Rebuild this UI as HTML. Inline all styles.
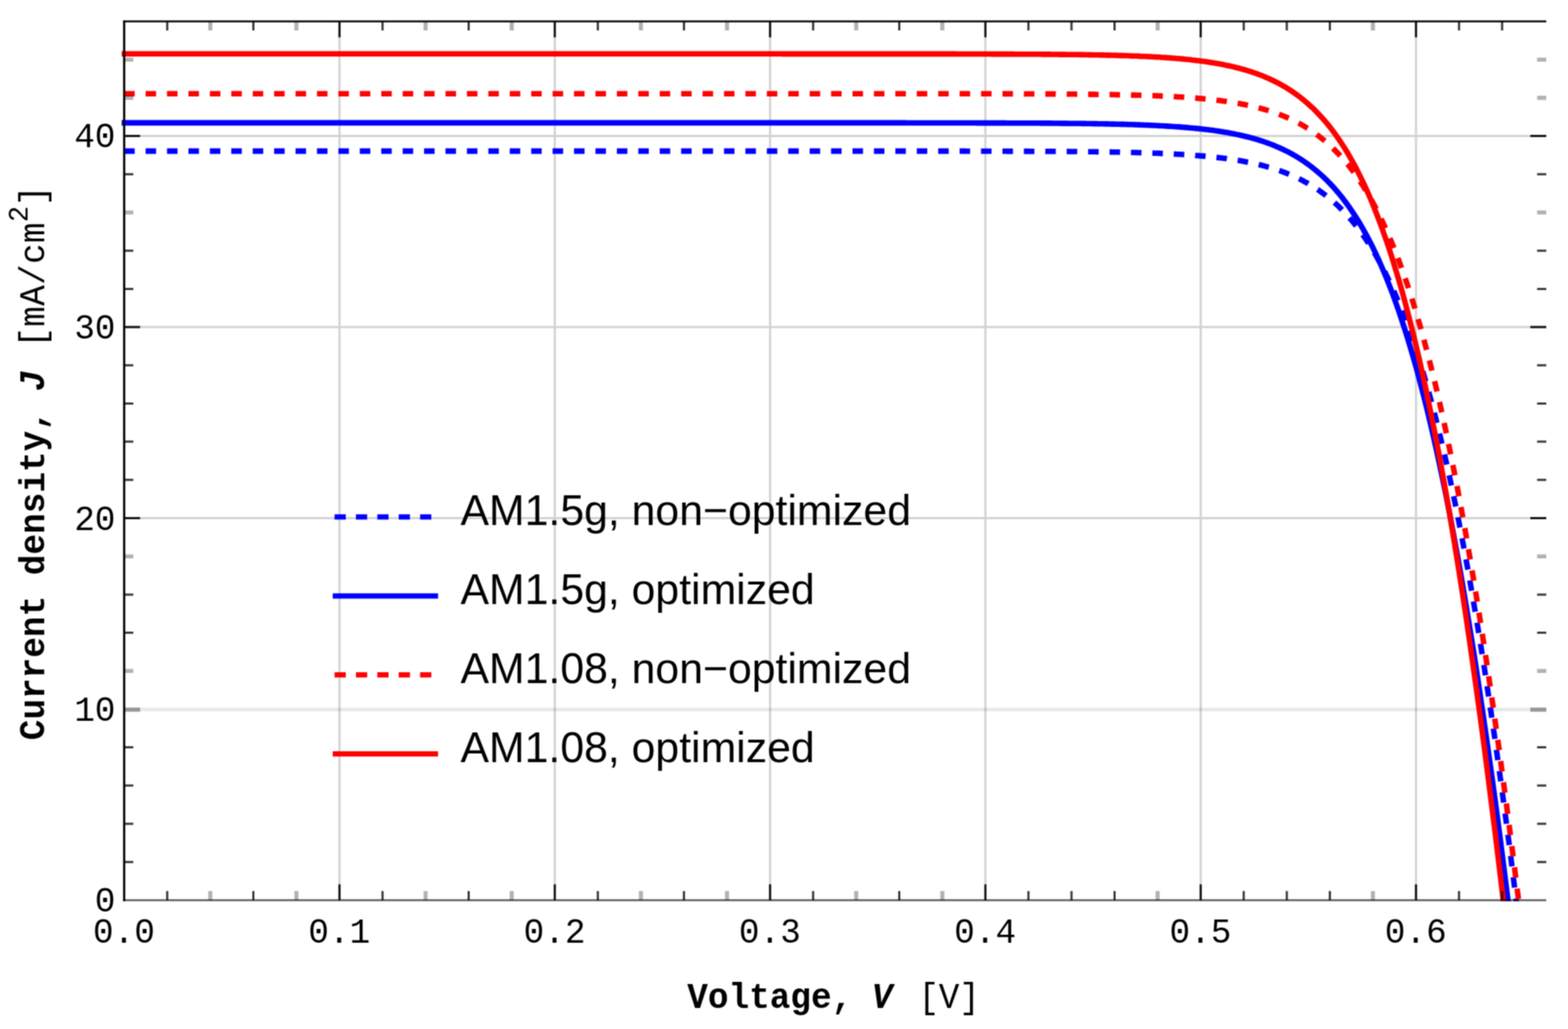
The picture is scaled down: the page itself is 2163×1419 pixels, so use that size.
<!DOCTYPE html>
<html lang="en">
<head>
<meta charset="utf-8">
<title>J-V curves</title>
<style>
html,body{margin:0;padding:0;background:#fff;}
body{width:2163px;height:1419px;overflow:hidden;}
svg{display:block;}
.mono{font-family:"Liberation Mono","DejaVu Sans Mono",monospace;font-size:47.4px;fill:#000;}
.lg{font-family:"Liberation Sans","DejaVu Sans",sans-serif;font-size:59px;fill:#000;}
.b{font-weight:bold;}
.i{font-style:italic;}
.sup{font-size:37px;}
</style>
</head>
<body>
<svg width="2163" height="1419" viewBox="0 0 2163 1419">
<defs><filter id="soft" x="0" y="0" width="2163" height="1419" filterUnits="userSpaceOnUse" color-interpolation-filters="sRGB"><feConvolveMatrix order="3" kernelMatrix="1 2 1 2 4 2 1 2 1" divisor="16" edgeMode="duplicate" preserveAlpha="true"/></filter><clipPath id="plot"><rect x="165.3" y="29.4" width="1967.7" height="1213.4"/></clipPath></defs>
<g filter="url(#soft)">
<rect width="2163" height="1419" fill="#fff"/>
<g id="grid" fill="none">
<path d="M171.3,978.6H2133.0" stroke="#000" stroke-opacity="0.085" stroke-width="5"/>
<path d="M468.3,29.4V1241.4M765.3,29.4V1241.4M1062.3,29.4V1241.4M1359.3,29.4V1241.4M1656.3,29.4V1241.4M1953.3,29.4V1241.4M171.3,714.5H2133.0M171.3,451.1H2133.0M171.3,187.6H2133.0" stroke="#000" stroke-opacity="0.175" stroke-width="3"/>
</g>
<g id="curves" clip-path="url(#plot)" fill="none" stroke-width="7.6" stroke-linejoin="round">
<path d="M171.3,208.4 L466.3,208.4 L469.4,208.4 L472.5,208.4 L475.7,208.4 L478.8,208.4 L481.9,208.4 L485.1,208.4 L488.2,208.4 L491.3,208.4 L494.5,208.4 L497.6,208.4 L500.7,208.4 L503.9,208.4 L507.0,208.4 L510.1,208.4 L513.3,208.4 L516.4,208.4 L519.6,208.4 L522.7,208.4 L525.8,208.4 L529.0,208.4 L532.1,208.4 L535.3,208.4 L538.4,208.4 L541.6,208.4 L544.7,208.4 L547.8,208.4 L551.0,208.4 L554.1,208.4 L557.3,208.4 L560.4,208.4 L563.6,208.4 L566.7,208.4 L569.9,208.4 L573.0,208.4 L576.2,208.4 L579.3,208.4 L582.5,208.4 L585.6,208.4 L588.8,208.4 L591.9,208.4 L595.1,208.4 L598.2,208.4 L601.4,208.4 L604.5,208.4 L607.7,208.4 L610.8,208.4 L614.0,208.4 L617.1,208.4 L620.3,208.4 L623.4,208.4 L626.6,208.4 L629.7,208.4 L632.9,208.4 L636.1,208.4 L639.2,208.4 L642.4,208.4 L645.5,208.4 L648.7,208.4 L651.8,208.4 L655.0,208.4 L658.1,208.4 L661.3,208.4 L664.4,208.4 L667.6,208.4 L670.7,208.4 L673.9,208.4 L677.1,208.4 L680.2,208.4 L683.4,208.4 L686.5,208.4 L689.7,208.4 L692.8,208.4 L696.0,208.4 L699.1,208.4 L702.3,208.4 L705.5,208.4 L708.6,208.4 L711.8,208.4 L714.9,208.4 L718.1,208.4 L721.2,208.4 L724.4,208.4 L727.5,208.4 L730.7,208.4 L733.9,208.4 L737.0,208.4 L740.2,208.4 L743.3,208.4 L746.5,208.4 L749.6,208.4 L752.8,208.4 L756.0,208.4 L759.1,208.4 L762.3,208.4 L765.4,208.4 L768.6,208.4 L771.7,208.4 L774.9,208.4 L778.0,208.4 L781.2,208.4 L784.4,208.4 L787.5,208.4 L790.7,208.4 L793.8,208.4 L797.0,208.4 L800.1,208.4 L803.3,208.4 L806.5,208.4 L809.6,208.4 L812.8,208.4 L815.9,208.4 L819.1,208.4 L822.2,208.4 L825.4,208.4 L828.6,208.4 L831.7,208.4 L834.9,208.4 L838.0,208.4 L841.2,208.4 L844.3,208.4 L847.5,208.4 L850.7,208.4 L853.8,208.4 L857.0,208.4 L860.1,208.4 L863.3,208.4 L866.4,208.4 L869.6,208.4 L872.8,208.4 L875.9,208.4 L879.1,208.4 L882.2,208.4 L885.4,208.4 L888.5,208.4 L891.7,208.4 L894.8,208.4 L898.0,208.4 L901.2,208.4 L904.3,208.4 L907.5,208.4 L910.6,208.4 L913.8,208.4 L916.9,208.4 L920.1,208.4 L923.3,208.4 L926.4,208.4 L929.6,208.4 L932.7,208.4 L935.9,208.4 L939.0,208.4 L942.2,208.4 L945.4,208.4 L948.5,208.4 L951.7,208.4 L954.8,208.4 L958.0,208.4 L961.1,208.4 L964.3,208.4 L967.5,208.4 L970.6,208.4 L973.8,208.4 L976.9,208.4 L980.1,208.4 L983.2,208.4 L986.4,208.4 L989.6,208.4 L992.7,208.4 L995.9,208.4 L999.0,208.4 L1002.2,208.4 L1005.3,208.4 L1008.5,208.4 L1011.7,208.4 L1014.8,208.4 L1018.0,208.4 L1021.1,208.4 L1024.3,208.4 L1027.4,208.4 L1030.6,208.4 L1033.8,208.4 L1036.9,208.4 L1040.1,208.4 L1043.2,208.4 L1046.4,208.4 L1049.5,208.4 L1052.7,208.4 L1055.9,208.4 L1059.0,208.4 L1062.2,208.4 L1065.3,208.4 L1068.5,208.4 L1071.6,208.4 L1074.8,208.4 L1078.0,208.4 L1081.1,208.4 L1084.3,208.4 L1087.4,208.4 L1090.6,208.4 L1093.7,208.4 L1096.9,208.4 L1100.1,208.4 L1103.2,208.4 L1106.4,208.4 L1109.5,208.4 L1112.7,208.4 L1115.8,208.4 L1119.0,208.4 L1122.2,208.4 L1125.3,208.4 L1128.5,208.4 L1131.6,208.4 L1134.8,208.4 L1137.9,208.4 L1141.1,208.4 L1144.3,208.4 L1147.4,208.4 L1150.6,208.4 L1153.7,208.4 L1156.9,208.4 L1160.0,208.4 L1163.2,208.4 L1166.4,208.4 L1169.5,208.4 L1172.7,208.4 L1175.8,208.4 L1179.0,208.4 L1182.1,208.4 L1185.3,208.4 L1188.5,208.4 L1191.6,208.4 L1194.8,208.4 L1197.9,208.4 L1201.1,208.4 L1204.2,208.4 L1207.4,208.4 L1210.6,208.4 L1213.7,208.4 L1216.9,208.4 L1220.0,208.4 L1223.2,208.4 L1226.3,208.4 L1229.5,208.4 L1232.7,208.4 L1235.8,208.4 L1239.0,208.4 L1242.1,208.4 L1245.3,208.4 L1248.4,208.4 L1251.6,208.4 L1254.8,208.4 L1257.9,208.4 L1261.1,208.4 L1264.2,208.4 L1267.4,208.4 L1270.5,208.4 L1273.7,208.4 L1276.9,208.4 L1280.0,208.4 L1283.2,208.4 L1286.3,208.4 L1289.5,208.4 L1292.6,208.4 L1295.8,208.4 L1299.0,208.4 L1302.1,208.4 L1305.3,208.4 L1308.4,208.4 L1311.6,208.4 L1314.7,208.4 L1317.9,208.4 L1321.1,208.4 L1324.2,208.4 L1327.4,208.4 L1330.5,208.4 L1333.7,208.5 L1336.8,208.5 L1340.0,208.5 L1343.2,208.5 L1346.3,208.5 L1349.5,208.5 L1352.6,208.5 L1355.8,208.5 L1358.9,208.5 L1362.1,208.5 L1365.3,208.5 L1368.4,208.5 L1371.6,208.5 L1374.7,208.5 L1377.9,208.5 L1381.0,208.5 L1384.2,208.5 L1387.4,208.5 L1390.5,208.6 L1393.7,208.6 L1396.8,208.6 L1400.0,208.6 L1403.1,208.6 L1406.3,208.6 L1409.5,208.6 L1412.6,208.6 L1415.8,208.6 L1418.9,208.6 L1422.1,208.7 L1425.2,208.7 L1428.4,208.7 L1431.6,208.7 L1434.7,208.7 L1437.9,208.7 L1441.0,208.7 L1444.2,208.8 L1447.4,208.8 L1450.5,208.8 L1453.7,208.8 L1456.8,208.8 L1460.0,208.9 L1463.1,208.9 L1466.3,208.9 L1469.5,208.9 L1472.6,208.9 L1475.8,209.0 L1478.9,209.0 L1482.1,209.0 L1485.3,209.0 L1488.4,209.1 L1491.6,209.1 L1494.7,209.1 L1497.9,209.2 L1501.0,209.2 L1504.2,209.2 L1507.4,209.3 L1510.5,209.3 L1513.7,209.4 L1516.8,209.4 L1520.0,209.4 L1523.2,209.5 L1526.3,209.5 L1529.5,209.6 L1532.6,209.6 L1535.8,209.7 L1539.0,209.8 L1542.1,209.8 L1545.3,209.9 L1548.4,209.9 L1551.6,210.0 L1554.8,210.1 L1557.9,210.2 L1561.1,210.2 L1564.2,210.3 L1567.4,210.4 L1570.6,210.5 L1573.7,210.6 L1576.9,210.7 L1580.0,210.8 L1583.2,210.9 L1586.4,211.0 L1589.5,211.1 L1592.7,211.2 L1595.9,211.3 L1599.0,211.4 L1602.2,211.6 L1605.4,211.7 L1608.5,211.9 L1611.7,212.0 L1614.8,212.2 L1618.0,212.3 L1621.2,212.5 L1624.3,212.7 L1627.5,212.8 L1630.7,213.0 L1633.8,213.2 L1637.0,213.4 L1640.2,213.6 L1643.3,213.9 L1646.5,214.1 L1649.7,214.4 L1652.8,214.6 L1656.0,214.9 L1659.2,215.1 L1662.4,215.4 L1665.5,215.7 L1668.7,216.0 L1671.9,216.4 L1675.1,216.7 L1678.2,217.1 L1681.4,217.4 L1684.6,217.8 L1687.8,218.2 L1690.9,218.6 L1694.1,219.1 L1697.3,219.5 L1700.5,220.0 L1703.7,220.5 L1706.8,221.0 L1710.0,221.5 L1713.2,222.1 L1716.4,222.7 L1719.6,223.3 L1722.8,223.9 L1726.0,224.6 L1729.1,225.3 L1732.3,226.0 L1735.5,226.7 L1738.7,227.5 L1741.9,228.3 L1745.1,229.2 L1748.3,230.1 L1751.5,231.0 L1754.7,232.0 L1757.9,233.0 L1761.1,234.0 L1764.3,235.1 L1767.6,236.2 L1770.8,237.4 L1774.0,238.6 L1777.2,239.9 L1780.4,241.3 L1783.7,242.6 L1786.9,244.1 L1790.1,245.6 L1793.4,247.2 L1796.6,248.8 L1799.8,250.6 L1803.1,252.3 L1806.3,254.2 L1809.6,256.2 L1812.8,258.2 L1816.1,260.3 L1819.4,262.5 L1822.6,264.8 L1825.9,267.2 L1829.2,269.7 L1832.5,272.3 L1835.8,275.0 L1839.1,277.8 L1842.4,280.8 L1845.7,283.8 L1849.0,287.0 L1852.3,290.4 L1855.6,293.9 L1859.0,297.5 L1862.3,301.3 L1865.7,305.2 L1869.0,309.3 L1872.4,313.6 L1875.8,318.0 L1879.1,322.7 L1882.5,327.5 L1885.9,332.6 L1889.4,337.9 L1892.8,343.4 L1896.2,349.1 L1899.7,355.1 L1903.1,361.3 L1906.6,367.8 L1910.1,374.5 L1913.6,381.6 L1917.1,388.9 L1920.6,396.6 L1924.2,404.5 L1927.8,412.9 L1931.3,421.5 L1934.9,430.6 L1938.6,440.0 L1942.2,449.8 L1945.9,460.1 L1949.5,470.7 L1953.2,481.9 L1957.0,493.5 L1960.7,505.5 L1964.5,518.2 L1968.3,531.3 L1972.1,545.0 L1976.0,559.3 L1979.9,574.1 L1983.8,589.6 L1987.7,605.8 L1991.7,622.7 L1995.7,640.2 L1999.8,658.5 L2003.9,677.6 L2008.0,697.5 L2012.2,718.3 L2016.4,739.9 L2020.7,762.4 L2025.0,785.9 L2029.3,810.4 L2033.7,836.0 L2038.2,862.6 L2042.7,890.3 L2047.3,919.2 L2051.9,949.4 L2056.6,980.8 L2061.4,1013.6 L2066.2,1047.7 L2071.1,1083.3 L2076.1,1120.4 L2081.2,1159.1 L2086.3,1199.4 L2091.5,1241.4 L2091.7,1243.3 L2092.1,1245.9 L2092.4,1248.6 L2092.7,1251.2 L2093.0,1253.9" stroke="#0000ff" stroke-dasharray="14.5 15.05"/>
<path d="M167.8,169.4 L459.3,169.4 L462.4,169.4 L465.5,169.4 L468.6,169.4 L471.7,169.4 L474.8,169.4 L478.0,169.4 L481.1,169.4 L484.2,169.4 L487.3,169.4 L490.4,169.4 L493.5,169.4 L496.6,169.4 L499.7,169.4 L502.9,169.4 L506.0,169.4 L509.1,169.4 L512.2,169.4 L515.3,169.4 L518.5,169.4 L521.6,169.4 L524.7,169.4 L527.8,169.4 L530.9,169.4 L534.1,169.4 L537.2,169.4 L540.3,169.4 L543.4,169.4 L546.6,169.4 L549.7,169.4 L552.8,169.4 L555.9,169.4 L559.1,169.4 L562.2,169.4 L565.3,169.4 L568.4,169.4 L571.6,169.4 L574.7,169.4 L577.8,169.4 L580.9,169.4 L584.1,169.4 L587.2,169.4 L590.3,169.4 L593.5,169.4 L596.6,169.4 L599.7,169.4 L602.8,169.4 L606.0,169.4 L609.1,169.4 L612.2,169.4 L615.4,169.4 L618.5,169.4 L621.6,169.4 L624.8,169.4 L627.9,169.4 L631.0,169.4 L634.2,169.4 L637.3,169.4 L640.4,169.4 L643.5,169.4 L646.7,169.4 L649.8,169.4 L652.9,169.4 L656.1,169.4 L659.2,169.4 L662.3,169.4 L665.5,169.4 L668.6,169.4 L671.7,169.4 L674.9,169.4 L678.0,169.4 L681.1,169.4 L684.3,169.4 L687.4,169.4 L690.5,169.4 L693.7,169.4 L696.8,169.4 L699.9,169.4 L703.1,169.4 L706.2,169.4 L709.3,169.4 L712.5,169.4 L715.6,169.4 L718.7,169.4 L721.9,169.4 L725.0,169.4 L728.1,169.4 L731.3,169.4 L734.4,169.4 L737.5,169.4 L740.7,169.4 L743.8,169.4 L746.9,169.4 L750.1,169.4 L753.2,169.4 L756.3,169.4 L759.5,169.4 L762.6,169.4 L765.7,169.4 L768.9,169.4 L772.0,169.4 L775.1,169.4 L778.3,169.4 L781.4,169.4 L784.5,169.4 L787.7,169.4 L790.8,169.4 L793.9,169.4 L797.1,169.4 L800.2,169.4 L803.3,169.4 L806.5,169.4 L809.6,169.4 L812.7,169.4 L815.9,169.4 L819.0,169.4 L822.2,169.4 L825.3,169.4 L828.4,169.4 L831.6,169.4 L834.7,169.4 L837.8,169.4 L841.0,169.4 L844.1,169.4 L847.2,169.4 L850.4,169.4 L853.5,169.4 L856.6,169.4 L859.8,169.4 L862.9,169.4 L866.0,169.4 L869.2,169.4 L872.3,169.4 L875.4,169.4 L878.6,169.4 L881.7,169.4 L884.8,169.4 L888.0,169.4 L891.1,169.4 L894.2,169.4 L897.4,169.4 L900.5,169.4 L903.6,169.4 L906.8,169.4 L909.9,169.4 L913.0,169.4 L916.2,169.4 L919.3,169.4 L922.5,169.4 L925.6,169.4 L928.7,169.4 L931.9,169.4 L935.0,169.4 L938.1,169.4 L941.3,169.4 L944.4,169.4 L947.5,169.4 L950.7,169.4 L953.8,169.4 L956.9,169.4 L960.1,169.4 L963.2,169.4 L966.3,169.4 L969.5,169.4 L972.6,169.4 L975.7,169.4 L978.9,169.4 L982.0,169.4 L985.1,169.4 L988.3,169.4 L991.4,169.4 L994.5,169.4 L997.7,169.4 L1000.8,169.4 L1003.9,169.4 L1007.1,169.4 L1010.2,169.4 L1013.4,169.4 L1016.5,169.4 L1019.6,169.4 L1022.8,169.4 L1025.9,169.4 L1029.0,169.4 L1032.2,169.4 L1035.3,169.4 L1038.4,169.4 L1041.6,169.4 L1044.7,169.4 L1047.8,169.4 L1051.0,169.4 L1054.1,169.4 L1057.2,169.4 L1060.4,169.4 L1063.5,169.4 L1066.6,169.4 L1069.8,169.4 L1072.9,169.4 L1076.0,169.4 L1079.2,169.4 L1082.3,169.4 L1085.4,169.4 L1088.6,169.4 L1091.7,169.4 L1094.8,169.4 L1098.0,169.4 L1101.1,169.4 L1104.3,169.4 L1107.4,169.4 L1110.5,169.4 L1113.7,169.4 L1116.8,169.4 L1119.9,169.4 L1123.1,169.4 L1126.2,169.4 L1129.3,169.4 L1132.5,169.4 L1135.6,169.4 L1138.7,169.4 L1141.9,169.4 L1145.0,169.4 L1148.1,169.4 L1151.3,169.4 L1154.4,169.4 L1157.5,169.4 L1160.7,169.4 L1163.8,169.4 L1166.9,169.4 L1170.1,169.4 L1173.2,169.4 L1176.3,169.4 L1179.5,169.4 L1182.6,169.4 L1185.7,169.4 L1188.9,169.4 L1192.0,169.4 L1195.2,169.4 L1198.3,169.4 L1201.4,169.4 L1204.6,169.4 L1207.7,169.4 L1210.8,169.4 L1214.0,169.4 L1217.1,169.4 L1220.2,169.4 L1223.4,169.4 L1226.5,169.4 L1229.6,169.4 L1232.8,169.4 L1235.9,169.4 L1239.0,169.4 L1242.2,169.4 L1245.3,169.4 L1248.4,169.4 L1251.6,169.5 L1254.7,169.5 L1257.8,169.5 L1261.0,169.5 L1264.1,169.5 L1267.2,169.5 L1270.4,169.5 L1273.5,169.5 L1276.7,169.5 L1279.8,169.5 L1282.9,169.5 L1286.1,169.5 L1289.2,169.5 L1292.3,169.5 L1295.5,169.5 L1298.6,169.5 L1301.7,169.5 L1304.9,169.5 L1308.0,169.5 L1311.1,169.5 L1314.3,169.5 L1317.4,169.5 L1320.5,169.5 L1323.7,169.5 L1326.8,169.5 L1329.9,169.5 L1333.1,169.5 L1336.2,169.5 L1339.3,169.5 L1342.5,169.5 L1345.6,169.5 L1348.7,169.6 L1351.9,169.6 L1355.0,169.6 L1358.2,169.6 L1361.3,169.6 L1364.4,169.6 L1367.6,169.6 L1370.7,169.6 L1373.8,169.6 L1377.0,169.6 L1380.1,169.6 L1383.2,169.6 L1386.4,169.6 L1389.5,169.7 L1392.6,169.7 L1395.8,169.7 L1398.9,169.7 L1402.0,169.7 L1405.2,169.7 L1408.3,169.7 L1411.4,169.7 L1414.6,169.8 L1417.7,169.8 L1420.9,169.8 L1424.0,169.8 L1427.1,169.8 L1430.3,169.8 L1433.4,169.8 L1436.5,169.9 L1439.7,169.9 L1442.8,169.9 L1445.9,169.9 L1449.1,169.9 L1452.2,170.0 L1455.3,170.0 L1458.5,170.0 L1461.6,170.0 L1464.8,170.1 L1467.9,170.1 L1471.0,170.1 L1474.2,170.2 L1477.3,170.2 L1480.4,170.2 L1483.6,170.3 L1486.7,170.3 L1489.8,170.3 L1493.0,170.4 L1496.1,170.4 L1499.3,170.5 L1502.4,170.5 L1505.5,170.5 L1508.7,170.6 L1511.8,170.6 L1514.9,170.7 L1518.1,170.7 L1521.2,170.8 L1524.4,170.9 L1527.5,170.9 L1530.6,171.0 L1533.8,171.1 L1536.9,171.1 L1540.0,171.2 L1543.2,171.3 L1546.3,171.4 L1549.5,171.4 L1552.6,171.5 L1555.7,171.6 L1558.9,171.7 L1562.0,171.8 L1565.2,171.9 L1568.3,172.0 L1571.4,172.1 L1574.6,172.2 L1577.7,172.4 L1580.9,172.5 L1584.0,172.6 L1587.1,172.7 L1590.3,172.9 L1593.4,173.0 L1596.6,173.2 L1599.7,173.4 L1602.9,173.5 L1606.0,173.7 L1609.1,173.9 L1612.3,174.1 L1615.4,174.3 L1618.6,174.5 L1621.7,174.7 L1624.9,174.9 L1628.0,175.1 L1631.2,175.4 L1634.3,175.6 L1637.5,175.9 L1640.6,176.2 L1643.8,176.5 L1646.9,176.8 L1650.1,177.1 L1653.2,177.4 L1656.4,177.7 L1659.5,178.1 L1662.7,178.4 L1665.8,178.8 L1669.0,179.2 L1672.1,179.6 L1675.3,180.1 L1678.5,180.5 L1681.6,181.0 L1684.8,181.5 L1687.9,182.0 L1691.1,182.5 L1694.3,183.1 L1697.4,183.7 L1700.6,184.3 L1703.8,184.9 L1706.9,185.6 L1710.1,186.3 L1713.3,187.0 L1716.5,187.7 L1719.6,188.5 L1722.8,189.3 L1726.0,190.1 L1729.2,191.0 L1732.4,191.9 L1735.5,192.9 L1738.7,193.9 L1741.9,194.9 L1745.1,196.0 L1748.3,197.1 L1751.5,198.3 L1754.7,199.5 L1757.9,200.8 L1761.1,202.2 L1764.3,203.5 L1767.5,205.0 L1770.8,206.5 L1774.0,208.1 L1777.2,209.7 L1780.4,211.4 L1783.7,213.2 L1786.9,215.1 L1790.1,217.0 L1793.4,219.0 L1796.6,221.1 L1799.9,223.3 L1803.1,225.6 L1806.4,228.0 L1809.7,230.5 L1812.9,233.1 L1816.2,235.8 L1819.5,238.6 L1822.8,241.5 L1826.1,244.6 L1829.4,247.7 L1832.7,251.1 L1836.0,254.5 L1839.4,258.1 L1842.7,261.9 L1846.0,265.8 L1849.4,269.9 L1852.8,274.2 L1856.1,278.6 L1859.5,283.2 L1862.9,288.1 L1866.3,293.1 L1869.7,298.3 L1873.2,303.8 L1876.6,309.5 L1880.0,315.4 L1883.5,321.6 L1887.0,328.1 L1890.5,334.8 L1894.0,341.8 L1897.5,349.1 L1901.1,356.8 L1904.6,364.7 L1908.2,373.0 L1911.8,381.6 L1915.4,390.6 L1919.1,400.0 L1922.7,409.8 L1926.4,420.0 L1930.1,430.6 L1933.8,441.7 L1937.6,453.2 L1941.4,465.3 L1945.2,477.8 L1949.0,490.9 L1952.9,504.5 L1956.8,518.7 L1960.7,533.5 L1964.7,549.0 L1968.7,565.1 L1972.7,581.9 L1976.8,599.3 L1980.9,617.6 L1985.0,636.6 L1989.2,656.4 L1993.5,677.0 L1997.8,698.6 L2002.1,721.0 L2006.5,744.4 L2011.0,768.8 L2015.5,794.2 L2020.0,820.7 L2024.6,848.3 L2029.3,877.1 L2034.1,907.1 L2038.9,938.4 L2043.7,971.0 L2048.7,1005.0 L2053.7,1040.4 L2058.9,1077.3 L2064.1,1115.8 L2069.4,1156.0 L2074.7,1197.8 L2080.2,1241.4 L2080.4,1243.3 L2080.8,1245.9 L2081.1,1248.6 L2081.4,1251.2 L2081.8,1253.9" stroke="#0000ff"/>
<path d="M171.3,129.2 L508.6,129.2 L511.7,129.2 L514.7,129.2 L517.8,129.2 L520.8,129.2 L523.9,129.2 L526.9,129.2 L529.9,129.2 L533.0,129.2 L536.0,129.2 L539.1,129.2 L542.1,129.2 L545.2,129.2 L548.2,129.2 L551.3,129.2 L554.3,129.2 L557.4,129.2 L560.4,129.2 L563.5,129.2 L566.5,129.2 L569.6,129.2 L572.6,129.2 L575.7,129.2 L578.7,129.2 L581.8,129.2 L584.8,129.2 L587.9,129.2 L590.9,129.2 L594.0,129.2 L597.0,129.2 L600.1,129.2 L603.1,129.2 L606.2,129.2 L609.2,129.2 L612.3,129.2 L615.3,129.2 L618.4,129.2 L621.4,129.2 L624.5,129.2 L627.5,129.2 L630.6,129.2 L633.6,129.2 L636.7,129.2 L639.7,129.2 L642.8,129.2 L645.8,129.2 L648.9,129.2 L651.9,129.2 L655.0,129.2 L658.0,129.2 L661.1,129.2 L664.2,129.2 L667.2,129.2 L670.3,129.2 L673.3,129.2 L676.4,129.2 L679.4,129.2 L682.5,129.2 L685.5,129.2 L688.6,129.2 L691.6,129.2 L694.7,129.2 L697.7,129.2 L700.8,129.2 L703.9,129.2 L706.9,129.2 L710.0,129.2 L713.0,129.2 L716.1,129.2 L719.1,129.2 L722.2,129.2 L725.2,129.2 L728.3,129.2 L731.3,129.2 L734.4,129.2 L737.4,129.2 L740.5,129.2 L743.6,129.2 L746.6,129.2 L749.7,129.2 L752.7,129.2 L755.8,129.2 L758.8,129.2 L761.9,129.2 L764.9,129.2 L768.0,129.2 L771.0,129.2 L774.1,129.2 L777.2,129.2 L780.2,129.2 L783.3,129.2 L786.3,129.2 L789.4,129.2 L792.4,129.2 L795.5,129.2 L798.5,129.2 L801.6,129.2 L804.6,129.2 L807.7,129.2 L810.7,129.2 L813.8,129.2 L816.9,129.2 L819.9,129.2 L823.0,129.2 L826.0,129.2 L829.1,129.2 L832.1,129.2 L835.2,129.2 L838.2,129.2 L841.3,129.2 L844.4,129.2 L847.4,129.2 L850.5,129.2 L853.5,129.2 L856.6,129.2 L859.6,129.2 L862.7,129.2 L865.7,129.2 L868.8,129.2 L871.8,129.2 L874.9,129.2 L878.0,129.2 L881.0,129.2 L884.1,129.2 L887.1,129.2 L890.2,129.2 L893.2,129.2 L896.3,129.2 L899.3,129.2 L902.4,129.2 L905.4,129.2 L908.5,129.2 L911.6,129.2 L914.6,129.2 L917.7,129.2 L920.7,129.2 L923.8,129.2 L926.8,129.2 L929.9,129.2 L932.9,129.2 L936.0,129.2 L939.0,129.2 L942.1,129.2 L945.2,129.2 L948.2,129.2 L951.3,129.2 L954.3,129.2 L957.4,129.2 L960.4,129.2 L963.5,129.2 L966.5,129.2 L969.6,129.2 L972.6,129.2 L975.7,129.2 L978.8,129.2 L981.8,129.2 L984.9,129.2 L987.9,129.2 L991.0,129.2 L994.0,129.2 L997.1,129.2 L1000.1,129.2 L1003.2,129.2 L1006.2,129.2 L1009.3,129.2 L1012.4,129.2 L1015.4,129.2 L1018.5,129.2 L1021.5,129.2 L1024.6,129.2 L1027.6,129.2 L1030.7,129.2 L1033.7,129.2 L1036.8,129.2 L1039.9,129.2 L1042.9,129.2 L1046.0,129.2 L1049.0,129.2 L1052.1,129.2 L1055.1,129.2 L1058.2,129.2 L1061.2,129.2 L1064.3,129.2 L1067.3,129.2 L1070.4,129.2 L1073.5,129.2 L1076.5,129.2 L1079.6,129.2 L1082.6,129.2 L1085.7,129.2 L1088.7,129.2 L1091.8,129.2 L1094.8,129.2 L1097.9,129.2 L1100.9,129.2 L1104.0,129.2 L1107.1,129.2 L1110.1,129.2 L1113.2,129.2 L1116.2,129.2 L1119.3,129.2 L1122.3,129.2 L1125.4,129.2 L1128.4,129.2 L1131.5,129.2 L1134.5,129.2 L1137.6,129.2 L1140.7,129.2 L1143.7,129.2 L1146.8,129.2 L1149.8,129.2 L1152.9,129.2 L1155.9,129.2 L1159.0,129.2 L1162.0,129.2 L1165.1,129.2 L1168.2,129.2 L1171.2,129.2 L1174.3,129.2 L1177.3,129.2 L1180.4,129.2 L1183.4,129.2 L1186.5,129.2 L1189.5,129.2 L1192.6,129.2 L1195.6,129.2 L1198.7,129.2 L1201.8,129.2 L1204.8,129.2 L1207.9,129.2 L1210.9,129.2 L1214.0,129.2 L1217.0,129.2 L1220.1,129.2 L1223.1,129.2 L1226.2,129.2 L1229.2,129.2 L1232.3,129.2 L1235.4,129.2 L1238.4,129.2 L1241.5,129.2 L1244.5,129.2 L1247.6,129.2 L1250.6,129.2 L1253.7,129.2 L1256.7,129.2 L1259.8,129.2 L1262.9,129.2 L1265.9,129.2 L1269.0,129.2 L1272.0,129.2 L1275.1,129.3 L1278.1,129.3 L1281.2,129.3 L1284.2,129.3 L1287.3,129.3 L1290.3,129.3 L1293.4,129.3 L1296.5,129.3 L1299.5,129.3 L1302.6,129.3 L1305.6,129.3 L1308.7,129.3 L1311.7,129.3 L1314.8,129.3 L1317.8,129.3 L1320.9,129.3 L1323.9,129.3 L1327.0,129.3 L1330.1,129.3 L1333.1,129.3 L1336.2,129.3 L1339.2,129.3 L1342.3,129.3 L1345.3,129.3 L1348.4,129.3 L1351.4,129.3 L1354.5,129.3 L1357.6,129.3 L1360.6,129.3 L1363.7,129.3 L1366.7,129.3 L1369.8,129.3 L1372.8,129.4 L1375.9,129.4 L1378.9,129.4 L1382.0,129.4 L1385.0,129.4 L1388.1,129.4 L1391.2,129.4 L1394.2,129.4 L1397.3,129.4 L1400.3,129.4 L1403.4,129.4 L1406.4,129.4 L1409.5,129.4 L1412.5,129.5 L1415.6,129.5 L1418.7,129.5 L1421.7,129.5 L1424.8,129.5 L1427.8,129.5 L1430.9,129.5 L1433.9,129.5 L1437.0,129.6 L1440.0,129.6 L1443.1,129.6 L1446.2,129.6 L1449.2,129.6 L1452.3,129.6 L1455.3,129.6 L1458.4,129.7 L1461.4,129.7 L1464.5,129.7 L1467.5,129.7 L1470.6,129.7 L1473.7,129.8 L1476.7,129.8 L1479.8,129.8 L1482.8,129.8 L1485.9,129.9 L1488.9,129.9 L1492.0,129.9 L1495.1,130.0 L1498.1,130.0 L1501.2,130.0 L1504.2,130.1 L1507.3,130.1 L1510.3,130.1 L1513.4,130.2 L1516.4,130.2 L1519.5,130.3 L1522.6,130.3 L1525.6,130.3 L1528.7,130.4 L1531.7,130.4 L1534.8,130.5 L1537.9,130.5 L1540.9,130.6 L1544.0,130.7 L1547.0,130.7 L1550.1,130.8 L1553.1,130.9 L1556.2,130.9 L1559.3,131.0 L1562.3,131.1 L1565.4,131.1 L1568.4,131.2 L1571.5,131.3 L1574.6,131.4 L1577.6,131.5 L1580.7,131.6 L1583.7,131.7 L1586.8,131.8 L1589.9,131.9 L1592.9,132.0 L1596.0,132.1 L1599.0,132.3 L1602.1,132.4 L1605.2,132.5 L1608.2,132.7 L1611.3,132.8 L1614.4,133.0 L1617.4,133.1 L1620.5,133.3 L1623.5,133.5 L1626.6,133.7 L1629.7,133.8 L1632.7,134.0 L1635.8,134.2 L1638.9,134.5 L1641.9,134.7 L1645.0,134.9 L1648.1,135.2 L1651.1,135.4 L1654.2,135.7 L1657.3,135.9 L1660.4,136.2 L1663.4,136.5 L1666.5,136.8 L1669.6,137.2 L1672.6,137.5 L1675.7,137.8 L1678.8,138.2 L1681.9,138.6 L1685.0,139.0 L1688.0,139.4 L1691.1,139.8 L1694.2,140.3 L1697.3,140.8 L1700.4,141.2 L1703.4,141.8 L1706.5,142.3 L1709.6,142.8 L1712.7,143.4 L1715.8,144.0 L1718.9,144.6 L1722.0,145.3 L1725.1,146.0 L1728.1,146.7 L1731.2,147.4 L1734.3,148.2 L1737.4,149.0 L1740.5,149.9 L1743.6,150.7 L1746.8,151.6 L1749.9,152.6 L1753.0,153.6 L1756.1,154.6 L1759.2,155.7 L1762.3,156.8 L1765.4,158.0 L1768.6,159.2 L1771.7,160.5 L1774.8,161.8 L1777.9,163.2 L1781.1,164.6 L1784.2,166.1 L1787.4,167.7 L1790.5,169.3 L1793.7,171.0 L1796.8,172.8 L1800.0,174.6 L1803.1,176.6 L1806.3,178.6 L1809.5,180.7 L1812.6,182.9 L1815.8,185.1 L1819.0,187.5 L1822.2,190.0 L1825.4,192.6 L1828.6,195.2 L1831.8,198.0 L1835.0,201.0 L1838.3,204.0 L1841.5,207.2 L1844.7,210.5 L1848.0,213.9 L1851.2,217.5 L1854.5,221.3 L1857.8,225.2 L1861.1,229.2 L1864.4,233.5 L1867.7,237.9 L1871.0,242.5 L1874.3,247.3 L1877.6,252.3 L1881.0,257.5 L1884.3,263.0 L1887.7,268.6 L1891.1,274.6 L1894.5,280.7 L1897.9,287.1 L1901.3,293.8 L1904.8,300.8 L1908.2,308.1 L1911.7,315.7 L1915.2,323.6 L1918.7,331.8 L1922.3,340.4 L1925.8,349.4 L1929.4,358.7 L1933.0,368.5 L1936.6,378.6 L1940.3,389.2 L1943.9,400.2 L1947.6,411.7 L1951.3,423.7 L1955.1,436.2 L1958.9,449.2 L1962.7,462.7 L1966.5,476.9 L1970.4,491.6 L1974.3,507.0 L1978.3,523.0 L1982.3,539.7 L1986.3,557.1 L1990.4,575.3 L1994.5,594.2 L1998.6,613.9 L2002.8,634.4 L2007.1,655.9 L2011.4,678.2 L2015.7,701.5 L2020.2,725.7 L2024.6,751.0 L2029.1,777.4 L2033.7,804.9 L2038.4,833.6 L2043.1,863.4 L2047.9,894.6 L2052.8,927.0 L2057.7,960.8 L2062.7,996.1 L2067.9,1032.9 L2073.0,1071.2 L2078.3,1111.1 L2083.7,1152.8 L2089.2,1196.2 L2094.8,1241.4 L2095.0,1243.3 L2095.3,1245.9 L2095.7,1248.6 L2096.0,1251.2 L2096.3,1253.9" stroke="#ff0000" stroke-dasharray="14.5 15.05"/>
<path d="M167.8,74.3 L474.0,74.3 L477.1,74.3 L480.1,74.3 L483.2,74.3 L486.3,74.3 L489.3,74.3 L492.4,74.3 L495.5,74.3 L498.5,74.3 L501.6,74.3 L504.6,74.3 L507.7,74.3 L510.8,74.3 L513.8,74.3 L516.9,74.3 L520.0,74.3 L523.1,74.3 L526.1,74.3 L529.2,74.3 L532.3,74.3 L535.3,74.3 L538.4,74.3 L541.5,74.3 L544.5,74.3 L547.6,74.3 L550.7,74.3 L553.8,74.3 L556.8,74.3 L559.9,74.3 L563.0,74.3 L566.1,74.3 L569.1,74.3 L572.2,74.3 L575.3,74.3 L578.4,74.3 L581.4,74.3 L584.5,74.3 L587.6,74.3 L590.7,74.3 L593.7,74.3 L596.8,74.3 L599.9,74.3 L603.0,74.3 L606.0,74.3 L609.1,74.3 L612.2,74.3 L615.3,74.3 L618.4,74.3 L621.4,74.3 L624.5,74.3 L627.6,74.3 L630.7,74.3 L633.7,74.3 L636.8,74.3 L639.9,74.3 L643.0,74.3 L646.1,74.3 L649.1,74.3 L652.2,74.3 L655.3,74.3 L658.4,74.3 L661.4,74.3 L664.5,74.3 L667.6,74.3 L670.7,74.3 L673.8,74.3 L676.8,74.3 L679.9,74.3 L683.0,74.3 L686.1,74.3 L689.2,74.3 L692.2,74.3 L695.3,74.3 L698.4,74.3 L701.5,74.3 L704.6,74.3 L707.6,74.3 L710.7,74.3 L713.8,74.3 L716.9,74.3 L720.0,74.3 L723.0,74.3 L726.1,74.3 L729.2,74.3 L732.3,74.3 L735.3,74.3 L738.4,74.3 L741.5,74.3 L744.6,74.3 L747.7,74.3 L750.7,74.3 L753.8,74.3 L756.9,74.3 L760.0,74.3 L763.1,74.3 L766.1,74.3 L769.2,74.3 L772.3,74.3 L775.4,74.3 L778.5,74.3 L781.6,74.3 L784.6,74.3 L787.7,74.3 L790.8,74.3 L793.9,74.3 L797.0,74.3 L800.0,74.3 L803.1,74.3 L806.2,74.3 L809.3,74.3 L812.4,74.3 L815.4,74.3 L818.5,74.3 L821.6,74.3 L824.7,74.3 L827.8,74.3 L830.8,74.3 L833.9,74.3 L837.0,74.3 L840.1,74.3 L843.2,74.3 L846.2,74.3 L849.3,74.3 L852.4,74.3 L855.5,74.3 L858.6,74.3 L861.6,74.3 L864.7,74.3 L867.8,74.3 L870.9,74.3 L874.0,74.3 L877.0,74.3 L880.1,74.3 L883.2,74.3 L886.3,74.3 L889.4,74.3 L892.4,74.3 L895.5,74.3 L898.6,74.3 L901.7,74.3 L904.8,74.3 L907.8,74.3 L910.9,74.3 L914.0,74.3 L917.1,74.3 L920.2,74.3 L923.2,74.3 L926.3,74.3 L929.4,74.3 L932.5,74.3 L935.6,74.3 L938.7,74.3 L941.7,74.3 L944.8,74.3 L947.9,74.3 L951.0,74.3 L954.1,74.3 L957.1,74.3 L960.2,74.3 L963.3,74.3 L966.4,74.3 L969.5,74.3 L972.5,74.3 L975.6,74.3 L978.7,74.3 L981.8,74.3 L984.9,74.3 L987.9,74.3 L991.0,74.3 L994.1,74.3 L997.2,74.3 L1000.3,74.3 L1003.3,74.3 L1006.4,74.3 L1009.5,74.3 L1012.6,74.3 L1015.7,74.3 L1018.7,74.3 L1021.8,74.3 L1024.9,74.3 L1028.0,74.3 L1031.1,74.3 L1034.1,74.3 L1037.2,74.3 L1040.3,74.3 L1043.4,74.3 L1046.5,74.3 L1049.5,74.3 L1052.6,74.3 L1055.7,74.3 L1058.8,74.3 L1061.9,74.3 L1065.0,74.3 L1068.0,74.3 L1071.1,74.3 L1074.2,74.3 L1077.3,74.3 L1080.4,74.4 L1083.4,74.4 L1086.5,74.4 L1089.6,74.4 L1092.7,74.4 L1095.8,74.4 L1098.8,74.4 L1101.9,74.4 L1105.0,74.4 L1108.1,74.4 L1111.2,74.4 L1114.2,74.4 L1117.3,74.4 L1120.4,74.4 L1123.5,74.4 L1126.6,74.4 L1129.6,74.4 L1132.7,74.4 L1135.8,74.4 L1138.9,74.4 L1142.0,74.4 L1145.0,74.4 L1148.1,74.4 L1151.2,74.4 L1154.3,74.4 L1157.4,74.4 L1160.4,74.4 L1163.5,74.4 L1166.6,74.4 L1169.7,74.4 L1172.8,74.4 L1175.9,74.4 L1178.9,74.4 L1182.0,74.4 L1185.1,74.4 L1188.2,74.4 L1191.3,74.4 L1194.3,74.4 L1197.4,74.4 L1200.5,74.4 L1203.6,74.4 L1206.7,74.4 L1209.7,74.4 L1212.8,74.4 L1215.9,74.4 L1219.0,74.4 L1222.1,74.4 L1225.1,74.4 L1228.2,74.4 L1231.3,74.4 L1234.4,74.4 L1237.5,74.4 L1240.5,74.4 L1243.6,74.4 L1246.7,74.4 L1249.8,74.4 L1252.9,74.4 L1255.9,74.4 L1259.0,74.4 L1262.1,74.4 L1265.2,74.4 L1268.3,74.4 L1271.3,74.4 L1274.4,74.4 L1277.5,74.4 L1280.6,74.4 L1283.7,74.4 L1286.8,74.4 L1289.8,74.4 L1292.9,74.4 L1296.0,74.4 L1299.1,74.4 L1302.2,74.4 L1305.2,74.4 L1308.3,74.4 L1311.4,74.4 L1314.5,74.4 L1317.6,74.4 L1320.6,74.5 L1323.7,74.5 L1326.8,74.5 L1329.9,74.5 L1333.0,74.5 L1336.0,74.5 L1339.1,74.5 L1342.2,74.5 L1345.3,74.5 L1348.4,74.5 L1351.4,74.5 L1354.5,74.5 L1357.6,74.5 L1360.7,74.5 L1363.8,74.5 L1366.9,74.5 L1369.9,74.6 L1373.0,74.6 L1376.1,74.6 L1379.2,74.6 L1382.3,74.6 L1385.3,74.6 L1388.4,74.6 L1391.5,74.6 L1394.6,74.6 L1397.7,74.6 L1400.7,74.7 L1403.8,74.7 L1406.9,74.7 L1410.0,74.7 L1413.1,74.7 L1416.2,74.7 L1419.2,74.7 L1422.3,74.8 L1425.4,74.8 L1428.5,74.8 L1431.6,74.8 L1434.6,74.8 L1437.7,74.9 L1440.8,74.9 L1443.9,74.9 L1447.0,74.9 L1450.1,75.0 L1453.1,75.0 L1456.2,75.0 L1459.3,75.0 L1462.4,75.1 L1465.5,75.1 L1468.5,75.1 L1471.6,75.2 L1474.7,75.2 L1477.8,75.2 L1480.9,75.3 L1484.0,75.3 L1487.0,75.3 L1490.1,75.4 L1493.2,75.4 L1496.3,75.5 L1499.4,75.5 L1502.5,75.6 L1505.5,75.6 L1508.6,75.7 L1511.7,75.7 L1514.8,75.8 L1517.9,75.9 L1521.0,75.9 L1524.0,76.0 L1527.1,76.1 L1530.2,76.1 L1533.3,76.2 L1536.4,76.3 L1539.5,76.4 L1542.5,76.5 L1545.6,76.6 L1548.7,76.6 L1551.8,76.7 L1554.9,76.8 L1558.0,77.0 L1561.1,77.1 L1564.2,77.2 L1567.2,77.3 L1570.3,77.4 L1573.4,77.6 L1576.5,77.7 L1579.6,77.8 L1582.7,78.0 L1585.8,78.1 L1588.9,78.3 L1591.9,78.5 L1595.0,78.6 L1598.1,78.8 L1601.2,79.0 L1604.3,79.2 L1607.4,79.4 L1610.5,79.6 L1613.6,79.8 L1616.7,80.1 L1619.8,80.3 L1622.9,80.6 L1626.0,80.8 L1629.1,81.1 L1632.1,81.4 L1635.2,81.7 L1638.3,82.0 L1641.4,82.3 L1644.5,82.7 L1647.6,83.0 L1650.7,83.4 L1653.8,83.8 L1656.9,84.2 L1660.0,84.6 L1663.2,85.0 L1666.3,85.5 L1669.4,86.0 L1672.5,86.5 L1675.6,87.0 L1678.7,87.5 L1681.8,88.1 L1684.9,88.6 L1688.0,89.2 L1691.1,89.9 L1694.3,90.5 L1697.4,91.2 L1700.5,91.9 L1703.6,92.7 L1706.7,93.5 L1709.9,94.3 L1713.0,95.1 L1716.1,96.0 L1719.2,96.9 L1722.4,97.9 L1725.5,98.9 L1728.6,99.9 L1731.8,101.0 L1734.9,102.1 L1738.1,103.3 L1741.2,104.5 L1744.4,105.8 L1747.5,107.2 L1750.7,108.5 L1753.8,110.0 L1757.0,111.5 L1760.2,113.1 L1763.3,114.7 L1766.5,116.4 L1769.7,118.2 L1772.9,120.1 L1776.0,122.0 L1779.2,124.0 L1782.4,126.2 L1785.6,128.3 L1788.8,130.6 L1792.0,133.0 L1795.3,135.5 L1798.5,138.1 L1801.7,140.8 L1804.9,143.6 L1808.2,146.6 L1811.4,149.6 L1814.7,152.8 L1817.9,156.2 L1821.2,159.6 L1824.5,163.2 L1827.8,167.0 L1831.1,170.9 L1834.4,175.0 L1837.7,179.3 L1841.0,183.8 L1844.3,188.4 L1847.7,193.2 L1851.0,198.3 L1854.4,203.5 L1857.8,209.0 L1861.1,214.7 L1864.5,220.7 L1868.0,226.9 L1871.4,233.3 L1874.8,240.1 L1878.3,247.1 L1881.8,254.4 L1885.3,262.1 L1888.8,270.0 L1892.3,278.3 L1895.8,287.0 L1899.4,296.0 L1903.0,305.4 L1906.6,315.2 L1910.2,325.4 L1913.9,336.0 L1917.6,347.1 L1921.3,358.7 L1925.0,370.8 L1928.8,383.3 L1932.6,396.4 L1936.4,410.1 L1940.2,424.3 L1944.1,439.2 L1948.0,454.6 L1952.0,470.8 L1956.0,487.6 L1960.0,505.1 L1964.1,523.4 L1968.2,542.4 L1972.3,562.2 L1976.5,582.9 L1980.8,604.5 L1985.1,627.0 L1989.4,650.4 L1993.8,674.8 L1998.3,700.3 L2002.8,726.9 L2007.3,754.5 L2012.0,783.4 L2016.7,813.4 L2021.5,844.8 L2026.3,877.4 L2031.2,911.5 L2036.2,947.0 L2041.3,984.0 L2046.5,1022.6 L2051.7,1062.8 L2057.0,1104.7 L2062.5,1148.4 L2068.0,1193.9 L2073.7,1241.4 L2073.9,1243.3 L2074.2,1245.9 L2074.5,1248.6 L2074.8,1251.2 L2075.1,1253.9" stroke="#ff0000"/>
</g>
<g id="ticks" fill="none">
<path d="M290.1,1241.4v-12.6M290.1,29.4v12.6M408.9,1241.4v-12.6M408.9,29.4v12.6M587.1,1241.4v-12.6M587.1,29.4v12.6M705.9,1241.4v-12.6M705.9,29.4v12.6M884.1,1241.4v-12.6M884.1,29.4v12.6M1002.9,1241.4v-12.6M1002.9,29.4v12.6M1181.1,1241.4v-12.6M1181.1,29.4v12.6M1299.9,1241.4v-12.6M1299.9,29.4v12.6M1596.9,1241.4v-12.6M1596.9,29.4v12.6M1893.9,1241.4v-12.6M1893.9,29.4v12.6M171.3,925.3h12.6M2133.0,925.3h-12.6M171.3,767.2h12.6M2133.0,767.2h-12.6M171.3,293.0h12.6M2133.0,293.0h-12.6M171.3,134.9h12.6M2133.0,134.9h-12.6M171.3,82.2h12.6M2133.0,82.2h-12.6" stroke="#000" stroke-opacity="0.3" stroke-width="5.6"/>
<path d="M171.3,978.6h22.0M2133.0,978.6h-22.0" stroke="#000" stroke-opacity="0.36" stroke-width="5.6"/>
<path d="M230.7,1241.4v-12.6M230.7,29.4v12.6M349.5,1241.4v-12.6M349.5,29.4v12.6M527.7,1241.4v-12.6M527.7,29.4v12.6M646.5,1241.4v-12.6M646.5,29.4v12.6M824.7,1241.4v-12.6M824.7,29.4v12.6M943.5,1241.4v-12.6M943.5,29.4v12.6M1121.7,1241.4v-12.6M1121.7,29.4v12.6M1240.5,1241.4v-12.6M1240.5,29.4v12.6M1418.7,1241.4v-12.6M1418.7,29.4v12.6M1478.1,1241.4v-12.6M1478.1,29.4v12.6M1537.5,1241.4v-12.6M1537.5,29.4v12.6M1715.7,1241.4v-12.6M1715.7,29.4v12.6M1775.1,1241.4v-12.6M1775.1,29.4v12.6M1834.5,1241.4v-12.6M1834.5,29.4v12.6M2012.7,1241.4v-12.6M2012.7,29.4v12.6M2072.1,1241.4v-12.6M2072.1,29.4v12.6M171.3,1188.7h12.6M2133.0,1188.7h-12.6M171.3,1136.0h12.6M2133.0,1136.0h-12.6M171.3,1083.3h12.6M2133.0,1083.3h-12.6M171.3,1030.6h12.6M2133.0,1030.6h-12.6M171.3,872.6h12.6M2133.0,872.6h-12.6M171.3,819.9h12.6M2133.0,819.9h-12.6M171.3,661.8h12.6M2133.0,661.8h-12.6M171.3,609.1h12.6M2133.0,609.1h-12.6M171.3,556.4h12.6M2133.0,556.4h-12.6M171.3,503.7h12.6M2133.0,503.7h-12.6M171.3,398.4h12.6M2133.0,398.4h-12.6M171.3,345.7h12.6M2133.0,345.7h-12.6M171.3,240.3h12.6M2133.0,240.3h-12.6" stroke="#000" stroke-opacity="0.78" stroke-width="3"/>
<path d="M468.3,1241.4v-22.0M468.3,29.4v22.0M765.3,1241.4v-22.0M765.3,29.4v22.0M1062.3,1241.4v-22.0M1062.3,29.4v22.0M1359.3,1241.4v-22.0M1359.3,29.4v22.0M1656.3,1241.4v-22.0M1656.3,29.4v22.0M1953.3,1241.4v-22.0M1953.3,29.4v22.0M171.3,714.5h22.0M2133.0,714.5h-22.0M171.3,451.1h22.0M2133.0,451.1h-22.0M171.3,187.6h22.0M2133.0,187.6h-22.0" stroke="#000" stroke-opacity="0.92" stroke-width="3"/>
</g>
<g id="axes" fill="none" stroke-width="2.9">
<path d="M169.85000000000002,1241.4H2133.0" stroke="#000" stroke-opacity="0.6"/>
<path d="M169.85000000000002,29.4H2133.0" stroke="#000" stroke-opacity="0.86" stroke-width="3"/>
<path d="M171.3,27.95V1242.8500000000001" stroke="#000" stroke-width="3"/>
</g>
<g class="mono">
<text transform="translate(0,1299.6) scale(1,1.03)" x="128.32 156.77 185.22" y="0">0.0</text>
<text transform="translate(0,1299.6) scale(1,1.03)" x="425.32 453.77 482.22" y="0">0.1</text>
<text transform="translate(0,1299.6) scale(1,1.03)" x="722.33 750.78 779.23" y="0">0.2</text>
<text transform="translate(0,1299.6) scale(1,1.03)" x="1019.33 1047.78 1076.23" y="0">0.3</text>
<text transform="translate(0,1299.6) scale(1,1.03)" x="1316.33 1344.78 1373.23" y="0">0.4</text>
<text transform="translate(0,1299.6) scale(1,1.03)" x="1613.33 1641.78 1670.23" y="0">0.5</text>
<text transform="translate(0,1299.6) scale(1,1.03)" x="1910.33 1938.78 1967.23" y="0">0.6</text>
<text transform="translate(0,1257.4) scale(1,1.03)" x="130.85" y="0">0</text>
<text transform="translate(0,994.0) scale(1,1.03)" x="102.40 130.85" y="0">10</text>
<text transform="translate(0,730.5) scale(1,1.03)" x="102.40 130.85" y="0">20</text>
<text transform="translate(0,467.1) scale(1,1.03)" x="102.40 130.85" y="0">30</text>
<text transform="translate(0,203.3) scale(1,1.03)" x="102.40 130.85" y="0">40</text>
<text transform="translate(0,1389.6) scale(1,1.06)"><tspan class="b" x="948.07 976.52 1004.97 1033.42 1061.88 1090.32 1118.77 1147.22 1175.67" y="0">Voltage, </tspan><tspan class="b i" x="1202.58" y="0">V</tspan><tspan x="1238.67 1266.88 1295.08 1323.27" y="0"> [V]</tspan></text>
<text transform="translate(60.6,1020.7) rotate(-90) scale(1,1.06)"><tspan class="b" x="-0.02 28.43 56.88 85.33 113.78 142.23 170.68 199.13 227.58 256.03 284.48 312.93 341.38 369.82 398.28 426.73 455.18" y="0">Current density, </tspan><tspan class="b i" x="481.48" y="0">J</tspan><tspan x="512.18 541.08 569.98 598.88 627.78 656.68 685.58" y="0"> [mA/cm</tspan><tspan class="sup" x="714.40" y="-21.2">2</tspan><tspan x="736.58" y="0">]</tspan></text>
</g>
<g id="legend" fill="none">
<line x1="461.5" y1="712.9" x2="604.3" y2="712.9" stroke="#0000ff" stroke-width="7.2" stroke-dasharray="15.5 14"/>
<text x="635.2" y="724.0" class="lg">AM1.5g, non−optimized</text>
<line x1="459.0" y1="821.9" x2="604.3" y2="821.9" stroke="#0000ff" stroke-width="7.2"/>
<text x="635.2" y="833.0" class="lg">AM1.5g, optimized</text>
<line x1="461.5" y1="930.7" x2="604.3" y2="930.7" stroke="#ff0000" stroke-width="7.2" stroke-dasharray="15.5 14"/>
<text x="635.2" y="941.8" class="lg">AM1.08, non−optimized</text>
<line x1="459.0" y1="1039.7" x2="604.3" y2="1039.7" stroke="#ff0000" stroke-width="7.2"/>
<text x="635.2" y="1050.8" class="lg">AM1.08, optimized</text>
</g>
</g>
</svg>
</body>
</html>
